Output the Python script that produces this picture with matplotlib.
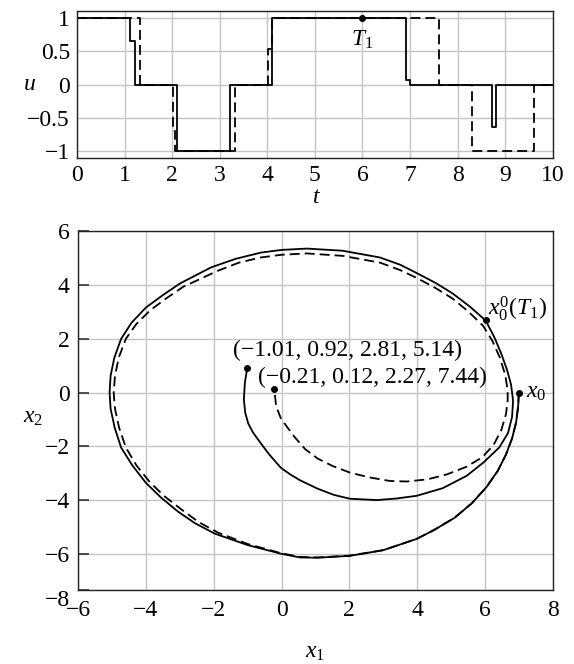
import matplotlib
matplotlib.use("Agg")
import matplotlib.pyplot as plt
import numpy as np

# control u(t): switching times and levels (step, post)
T_SOLID = [0, 1.11, 1.23, 2.10, 3.21, 4.09, 6.91, 7.00, 8.72, 8.80, 10]
U_SOLID = [1, 0.66, 0, -1, 0, 1, 0.07, 0, -0.63, 0, 0]
T_DASH = [0, 1.32, 2.02, 2.07, 3.32, 4.01, 4.09, 7.60, 8.30, 9.60, 10]
U_DASH = [1, 0, -0.70, -1, 0, 0.54, 1, 0, -1, 0, 0]

# phase trajectory, solid (clockwise from x0)
X1_SOLID = [7.00, 6.98, 6.92, 6.80, 6.62, 6.38, 6.05, 5.62, 5.10, 4.50, 3.99, 3.00,
            2.02, 1.07, 0.54, -0.02, -1.00, -1.96, -2.55, -3.05, -3.55, -4.00,
            -4.40, -4.73, -4.92, -5.04, -5.07, -5.04, -4.93, -4.73, -4.42, -4.00,
            -3.50, -3.00, -2.08, -1.35, -0.61, 0.00, 0.75, 1.80, 2.90, 3.50, 4.02,
            4.55, 5.05, 5.55, 6.02, 6.28, 6.48, 6.65, 6.77, 6.83, 6.80, 6.68,
            6.42, 5.95, 5.46, 4.75, 3.99, 3.40, 2.81, 2.02, 1.55, 1.07, 0.54,
            0.25, -0.02, -0.36, -0.64, -0.83, -0.98, -1.07, -1.11, -1.08, -1.01]
X2_SOLID = [0.00, -0.50, -1.10, -1.70, -2.30, -2.90, -3.50, -4.10, -4.65, -5.10, -5.43, -5.85,
            -6.06, -6.13, -6.12, -5.98, -5.66, -5.24, -4.85, -4.42, -3.90, -3.35,
            -2.70, -2.04, -1.30, -0.60, 0.00, 0.63, 1.30, 2.00, 2.60, 3.16,
            3.62, 4.05, 4.65, 4.97, 5.20, 5.30, 5.35, 5.27, 5.02, 4.75, 4.42,
            4.07, 3.68, 3.20, 2.68, 2.05, 1.45, 0.85, 0.30, -0.30, -0.90, -1.50,
            -2.04, -2.60, -3.09, -3.55, -3.83, -3.93, -3.99, -3.94, -3.80, -3.57, -3.25,
            -3.03, -2.79, -2.30, -1.83, -1.50, -1.15, -0.75, -0.25, 0.37, 0.92]

# phase trajectory, dashed
X1_DASH = [7.00, 6.98, 6.92, 6.80, 6.62, 6.38, 6.05, 5.62, 5.10, 4.50, 3.99, 3.00,
           2.02, 1.07, 0.54, -0.02, -1.00, -1.87, -2.45, -2.96, -3.45, -3.88,
           -4.28, -4.59, -4.79, -4.91, -4.95, -4.91, -4.80, -4.59, -4.28, -3.88,
           -3.40, -2.90, -1.87, -1.25, -0.61, 0.00, 0.75, 1.80, 2.90, 3.50, 4.02,
           4.55, 5.05, 5.52, 5.94, 6.22, 6.44, 6.60, 6.67, 6.67, 6.62, 6.48,
           6.25, 5.92, 5.46, 4.87, 4.30, 3.70, 3.20, 2.60, 2.02, 1.50, 1.07,
           0.70, 0.40, 0.15, -0.02, -0.16, -0.21]
X2_DASH = [0.00, -0.50, -1.10, -1.70, -2.30, -2.90, -3.50, -4.10, -4.65, -5.10, -5.43, -5.85,
           -6.05, -6.12, -6.10, -5.96, -5.62, -5.20, -4.80, -4.33, -3.85, -3.33,
           -2.70, -2.04, -1.30, -0.60, 0.00, 0.63, 1.30, 2.00, 2.55, 3.05,
           3.50, 3.93, 4.53, 4.83, 5.02, 5.12, 5.17, 5.08, 4.83, 4.55, 4.24,
           3.88, 3.49, 3.00, 2.49, 1.92, 1.30, 0.65, 0.07, -0.30, -0.80, -1.40,
           -1.95, -2.40, -2.75, -3.04, -3.22, -3.30, -3.28, -3.15, -2.97, -2.72, -2.45,
           -2.10, -1.67, -1.25, -0.95, -0.50, 0.12]

END_SOLID = (-1.01, 0.92)
END_DASH = (-0.21, 0.12)
X0 = (7.0, 0.0)
X0_T1 = (6.02, 2.68)
T1 = (6.0, 1.0)

LABEL_SOLID = "(\u22121.01, 0.92, 2.81, 5.14)"
LABEL_DASH = "(\u22120.21, 0.12, 2.27, 7.44)"

plt.rcParams["font.family"] = ["Liberation Serif", "DejaVu Serif"]
plt.rcParams["mathtext.fontset"] = "custom"
plt.rcParams["mathtext.rm"] = "Liberation Serif"
plt.rcParams["mathtext.it"] = "Liberation Serif:italic"
plt.rcParams["font.size"] = 17

GRID = "#c4c4c4"
LW = 1.3
DASH = (0, (5.5, 2.8))


def _style(ax):
    ax.grid(True, color=GRID, linewidth=1.0)
    ax.set_axisbelow(True)
    for s in ax.spines.values():
        s.set_color("#222222")
        s.set_linewidth(1.0)


fig = plt.figure(figsize=(5.74, 6.64), dpi=100)

# top: control
ax1 = fig.add_axes([0.134, 0.762, 0.829, 0.221])
ax1.step(T_SOLID, U_SOLID, where="post", color="black", lw=LW)
ax1.step(T_DASH, U_DASH, where="post", color="black", lw=LW, linestyle=DASH)
ax1.plot(*T1, "o", color="black", ms=4)
ax1.text(T1[0], 0.67, r"$T_1$", ha="center", va="center")
ax1.set_xlim(0, 10)
ax1.set_ylim(-1.1, 1.1)
ax1.set_xticks(range(0, 11))
ax1.set_yticks([-1, -0.5, 0, 0.5, 1])
ax1.set_yticklabels(["\u22121", "\u22120.5", "0", "0.5", "1"])
ax1.tick_params(length=0, pad=5)
_style(ax1)
ax1.set_xlabel(r"$t$", labelpad=0)
ax1.xaxis.set_label_coords(0.504, -0.20)
ax1.set_ylabel(r"$u$", rotation=0, va="center", ha="center")
ax1.yaxis.set_label_coords(-0.099, 0.5)

# bottom: phase plane
ax2 = fig.add_axes([0.136, 0.111, 0.827, 0.541])
ax2.plot(X1_SOLID, X2_SOLID, color="black", lw=LW)
ax2.plot(X1_DASH, X2_DASH, color="black", lw=LW, linestyle=DASH)
for p in (END_SOLID, END_DASH, X0, X0_T1):
    ax2.plot(*p, "o", color="black", ms=4)
ax2.text(-1.43, 1.56, LABEL_SOLID, ha="left", va="center")
ax2.text(-0.70, 0.56, LABEL_DASH, ha="left", va="center")
ax2.text(6.08, 3.12, r"$x_0^0(T_1)$", ha="left", va="center")
ax2.text(7.22, 0.0, r"$x_0$", ha="left", va="center")

ybot = -7.34
ax2.set_xlim(-6, 8)
ax2.set_ylim(ybot, 6)
ax2.set_xticks(range(-6, 9, 2))
ax2.set_yticks([ybot, -6, -4, -2, 0, 2, 4, 6])
ax2.set_yticklabels(["\u22128", "\u22126", "\u22124", "\u22122", "0", "2", "4", "6"])
ax2.get_yticklabels()[0].set_va("top")
ax2.tick_params(axis="y", direction="in", length=8, width=1.2, color="#333333", pad=6)
ax2.tick_params(axis="x", direction="in", length=0, pad=7)
_style(ax2)
ax2.set_xlabel(r"$x_1$")
ax2.xaxis.set_label_coords(0.5, -0.145)
ax2.set_ylabel(r"$x_2$", rotation=0, va="center", ha="center")
ax2.yaxis.set_label_coords(-0.095, 0.48)

fig.savefig("out.png", dpi=100)
plt.close(fig)
